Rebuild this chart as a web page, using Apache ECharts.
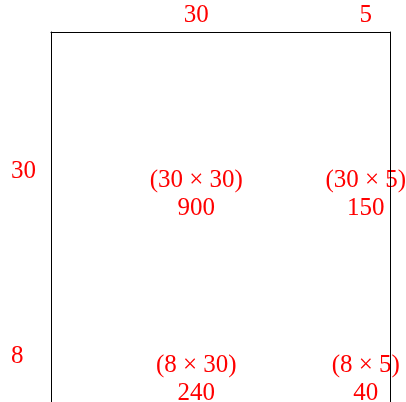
<!DOCTYPE html>
<html>
<head>
<meta charset="utf-8">
<script src="https://cdn.jsdelivr.net/npm/echarts@6/dist/echarts.min.js"></script>
<style>
  html, body { margin: 0; padding: 0; background: #fff; }
  #chart { width: 406px; height: 402px; }
</style>
</head>
<body>
<div id="chart"></div>
<script>
// area model 38 x 35
const colParts = [30, 5];
const rowParts = [30, 8];
const products = [[900, 150], [240, 40]];

const red = '#ff0000';
const font = 'Liberation Serif, Times New Roman, serif';

// centres of each part along the axis
function centres(parts) {
  let out = [], start = 0;
  for (let i = 0; i < parts.length; i++) {
    out.push(start + parts[i] / 2);
    start += parts[i];
  }
  return out;
}
const colMid = centres(colParts);
const rowMid = centres(rowParts);
const xMax = colParts.reduce((a, b) => a + b, 0);
const yMax = rowParts.reduce((a, b) => a + b, 0);

const colData = colParts.map((c, i) => ({ value: [colMid[i], 0], name: String(c) }));
const rowData = rowParts.map((r, i) => ({ value: [0, rowMid[i]], name: String(r) }));
const cellData = [];
for (let r = 0; r < rowParts.length; r++) {
  for (let c = 0; c < colParts.length; c++) {
    cellData.push({
      value: [colMid[c], rowMid[r]],
      name: '(' + rowParts[r] + ' \u00d7 ' + colParts[c] + ')\n' + products[r][c]
    });
  }
}

const txt = { color: red, fontFamily: font, fontSize: 25, lineHeight: 28 };
const axisLine = { show: true, onZero: false, lineStyle: { color: '#000', width: 1 } };

const myChart = echarts.init(document.getElementById('chart'));
myChart.setOption({
  animation: false,
  grid: { left: 51, top: 32, width: 339, height: 370 },
  xAxis: {
    type: 'value', min: 0, max: xMax, position: 'top',
    axisLine: axisLine, axisTick: { show: false }, axisLabel: { show: false },
    splitLine: { show: false }, z: 5
  },
  yAxis: [
    { type: 'value', min: 0, max: yMax, inverse: true, position: 'left',
      axisLine: axisLine, axisTick: { show: false }, axisLabel: { show: false },
      splitLine: { show: false }, z: 5 },
    { type: 'value', min: 0, max: yMax, inverse: true, position: 'right',
      axisLine: axisLine, axisTick: { show: false }, axisLabel: { show: false },
      splitLine: { show: false }, z: 5 }
  ],
  series: [
    {
      type: 'scatter', symbolSize: 0, clip: false, z: 1, silent: true,
      itemStyle: { opacity: 1 },
      data: colData,
      label: Object.assign({ show: true, position: 'inside', offset: [0, -17],
        formatter: p => p.name, align: 'center', verticalAlign: 'middle' }, txt)
    },
    {
      type: 'scatter', symbolSize: 0, clip: false, z: 1, silent: true,
      itemStyle: { opacity: 1 },
      data: rowData,
      label: Object.assign({ show: true, position: 'inside', offset: [-40, -6.5],
        formatter: p => p.name, align: 'left', verticalAlign: 'middle' }, txt)
    },
    {
      type: 'scatter', symbolSize: 0, clip: false, z: 1, silent: true,
      itemStyle: { opacity: 1 },
      data: cellData,
      label: Object.assign({ show: true, position: 'inside', offset: [0, 16],
        formatter: p => p.name, align: 'center', verticalAlign: 'middle' }, txt)
    }
  ]
});
</script>
</body>
</html>
